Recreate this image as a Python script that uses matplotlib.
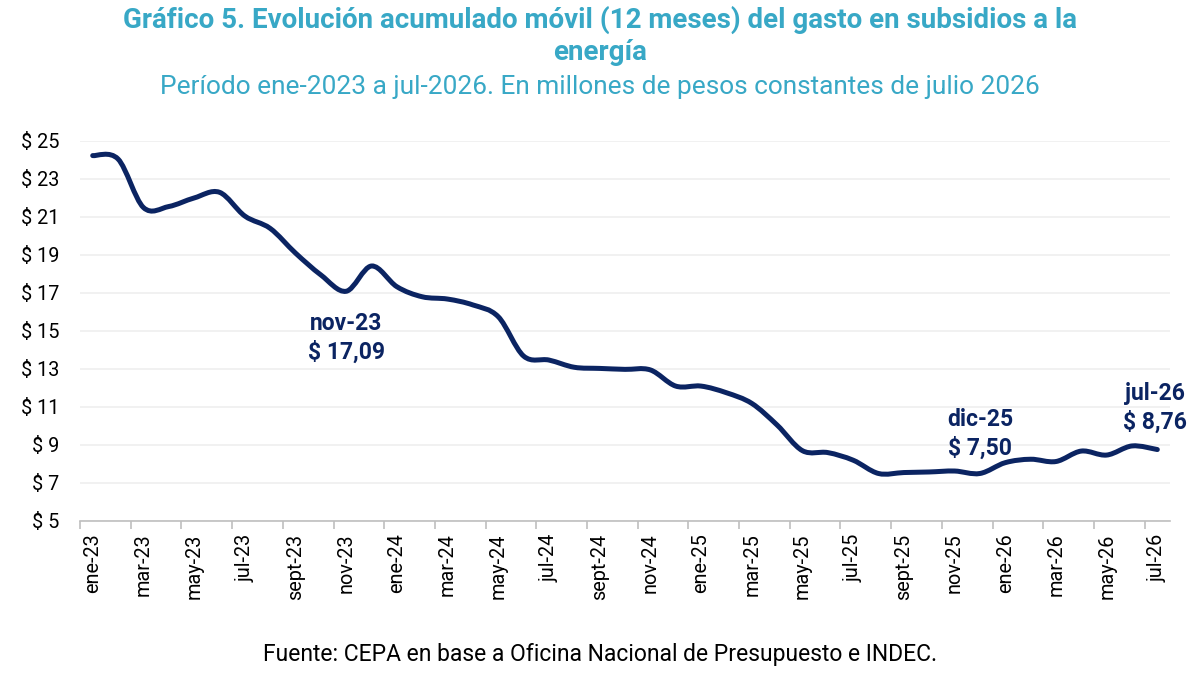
import matplotlib
matplotlib.use("Agg")
import matplotlib.pyplot as plt
from matplotlib.path import Path
from matplotlib.patches import PathPatch
import numpy as np

plt.rcParams['font.family'] = ['Roboto', 'DejaVu Sans']

months = ["ene-23", "feb-23", "mar-23", "abr-23", "may-23", "jun-23", "jul-23", "ago-23",
          "sept-23", "oct-23", "nov-23", "dic-23", "ene-24", "feb-24", "mar-24", "abr-24",
          "may-24", "jun-24", "jul-24", "ago-24", "sept-24", "oct-24", "nov-24", "dic-24",
          "ene-25", "feb-25", "mar-25", "abr-25", "may-25", "jun-25", "jul-25", "ago-25",
          "sept-25", "oct-25", "nov-25", "dic-25", "ene-26", "feb-26", "mar-26", "abr-26",
          "may-26", "jun-26", "jul-26"]
values = [24.23, 24.05, 21.5, 21.55, 22.0, 22.3, 21.05, 20.4, 19.1, 17.95, 17.09, 18.42,
          17.33, 16.8, 16.68, 16.37, 15.75, 13.68, 13.47, 13.09, 13.03, 12.98, 12.95, 12.1,
          12.1, 11.75, 11.19, 10.05, 8.7, 8.6, 8.2, 7.5, 7.55, 7.58, 7.63, 7.50, 8.07,
          8.25, 8.13, 8.68, 8.47, 8.95, 8.76]
yticks = [5, 7, 9, 11, 13, 15, 17, 19, 21, 23, 25]
annotations = [("nov-23", "$ 17,09"), ("dic-25", "$ 7,50"), ("jul-26", "$ 8,76")]

title_color = "#38A8C6"
line_color = "#0B2462"

fig = plt.figure(figsize=(12, 6.83), dpi=100)
ax = fig.add_axes([0.0667, 0.2372, 0.9083, 0.5564])

# smooth curve (Catmull-Rom -> cubic Bezier) through the data points
x = np.arange(len(values), dtype=float)
y = np.array(values, dtype=float)
n = len(x)
verts = [(x[0], y[0])]
codes = [Path.MOVETO]
for i in range(n - 1):
    p0 = (x[max(i - 1, 0)], y[max(i - 1, 0)])
    p1 = (x[i], y[i])
    p2 = (x[i + 1], y[i + 1])
    p3 = (x[min(i + 2, n - 1)], y[min(i + 2, n - 1)])
    c1 = (p1[0] + (p2[0] - p0[0]) / 6, p1[1] + (p2[1] - p0[1]) / 6)
    c2 = (p2[0] - (p3[0] - p1[0]) / 6, p2[1] - (p3[1] - p1[1]) / 6)
    verts += [c1, c2, p2]
    codes += [Path.CURVE4] * 3
patch = PathPatch(Path(verts, codes), facecolor="none", edgecolor=line_color,
                  lw=3.6, capstyle="round", joinstyle="round", zorder=3)
ax.add_patch(patch)

ax.set_xlim(-0.5, len(values) - 0.5)
ax.set_ylim(5, 25)
ax.set_yticks(yticks)
ax.set_yticklabels([f"$ {v}" for v in yticks], fontsize=14.3, color="#000000")
ax.yaxis.grid(True, color="#EFEFEF", lw=1.2)
ax.set_axisbelow(True)
ax.tick_params(axis="y", length=0, pad=15)

ax.set_xticks(x[::2])
ax.set_xticklabels(months[::2], rotation=90, fontsize=14.3, color="#000000")
ax.set_xticks(np.arange(-0.5, len(values), 2), minor=True)
ax.tick_params(axis="x", which="major", length=0, pad=9)
ax.tick_params(axis="x", which="minor", length=6, color="#BFBFBF", width=1.2)

for s in ["top", "right", "left"]:
    ax.spines[s].set_visible(False)
ax.spines["bottom"].set_color("#BFBFBF")
ax.spines["bottom"].set_linewidth(1.2)

# annotations
offsets = {"nov-23": (0, -47), "dic-25": (0, 40), "jul-26": (-2, 42)}
for name, txt in annotations:
    i = months.index(name)
    ax.annotate(f"{name}\n{txt}", xy=(i, values[i]), xytext=offsets[name],
                textcoords="offset pixels", ha="center", va="center",
                fontsize=16.5, fontweight="bold", color=line_color, linespacing=1.3)

fig.text(0.5, 1 - 20 / 683, "Gráfico 5. Evolución acumulado móvil (12 meses) del gasto en subsidios a la",
         ha="center", va="center", fontsize=20, fontweight="bold", color=title_color)
fig.text(0.5, 1 - 53 / 683, "energía", ha="center", va="center", fontsize=20,
         fontweight="bold", color=title_color)
fig.text(0.5, 1 - 87 / 683, "Período ene-2023 a jul-2026. En millones de pesos constantes de julio 2026",
         ha="center", va="center", fontsize=18.9, color=title_color)
fig.text(0.5, 1 - 655 / 683, "Fuente: CEPA en base a Oficina Nacional de Presupuesto e INDEC.",
         ha="center", va="center", fontsize=16.5, color="#000000")

fig.savefig("out.png", dpi=100, facecolor="white")
